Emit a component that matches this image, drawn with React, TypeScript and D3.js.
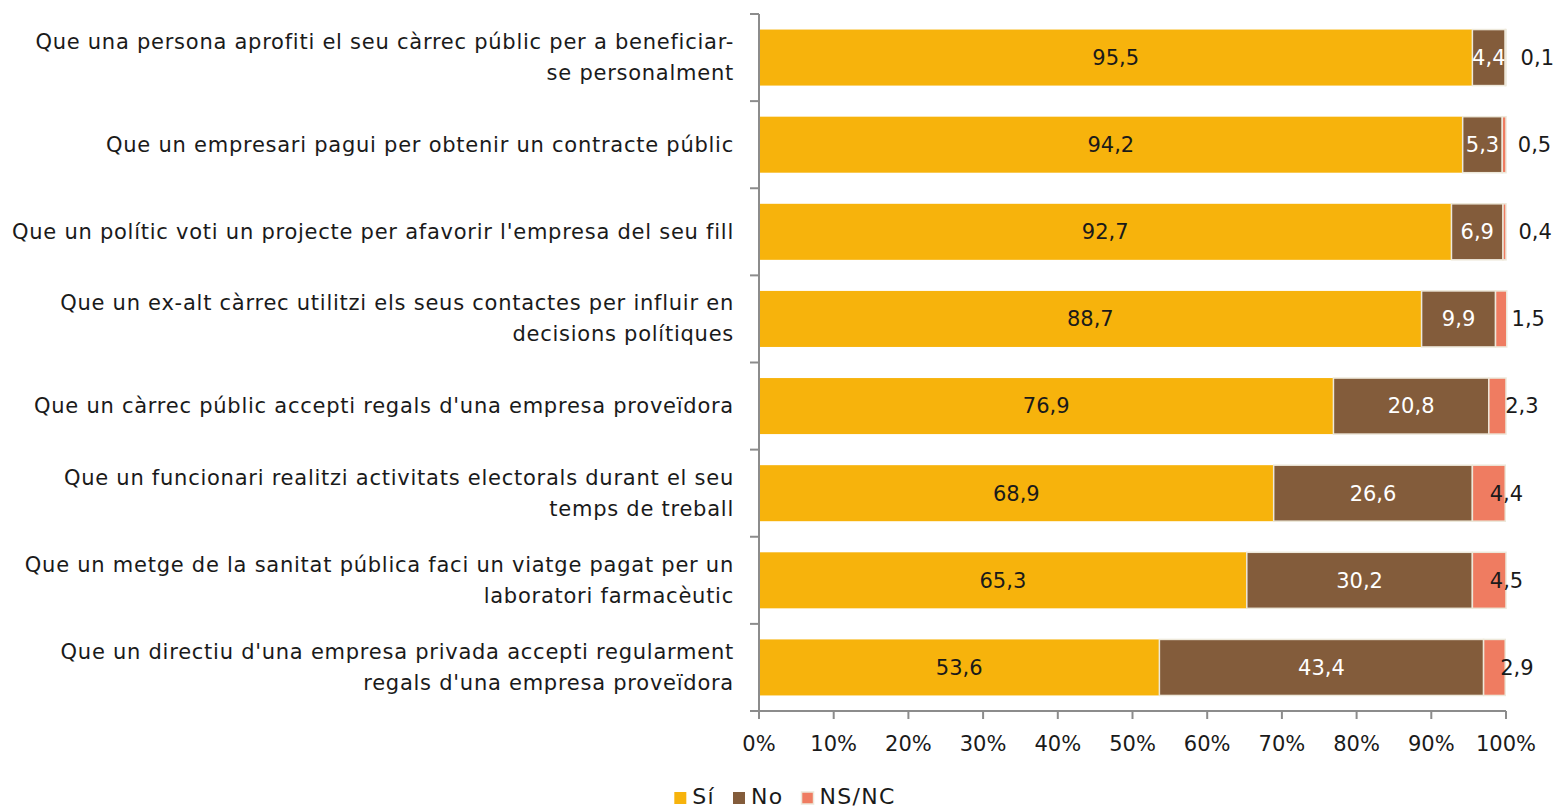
import React, { useEffect, useRef } from 'react';
import * as d3 from 'd3';

// questions (already split into the lines they show on)
const categories = [
  ['Que una persona aprofiti el seu càrrec públic per a beneficiar-', 'se personalment'],
  ['Que un empresari pagui per obtenir un contracte públic'],
  ["Que un polític voti un projecte per afavorir l'empresa del seu fill"],
  ['Que un ex-alt càrrec utilitzi els seus contactes per influir en', 'decisions polítiques'],
  ["Que un càrrec públic accepti regals d'una empresa proveïdora"],
  ['Que un funcionari realitzi activitats electorals durant el seu', 'temps de treball'],
  ['Que un metge de la sanitat pública faci un viatge pagat per un', 'laboratori farmacèutic'],
  ["Que un directiu d'una empresa privada accepti regularment", "regals d'una empresa proveïdora"],
];

const si = [95.5, 94.2, 92.7, 88.7, 76.9, 68.9, 65.3, 53.6];
const no = [4.4, 5.3, 6.9, 9.9, 20.8, 26.6, 30.2, 43.4];
const nsnc = [0.1, 0.5, 0.4, 1.5, 2.3, 4.4, 4.5, 2.9];

const seriesNames = ['Sí', 'No', 'NS/NC'];
const xTicks = [0, 10, 20, 30, 40, 50, 60, 70, 80, 90, 100];

const FONT = "'DejaVu Sans', sans-serif";
const FS = 21;
const colors = ['#F7B30C', '#835C3B', '#EF7C61'];
const labelColors = ['#1a1a1a', '#ffffff', '#1a1a1a'];

const ca = d3.formatLocale({ decimal: ',', thousands: '.', grouping: [3], currency: ['', '€'] });
const fmt = ca.format('.1f');

function Chart() {
  const ref = useRef<SVGSVGElement>(null);

  useEffect(() => {
    const svg = d3.select(ref.current);
    svg.selectAll('*').remove();

    const width = 1559, height = 808;
    const left = 759, right = 1506, top = 14, bottom = 711;

    const ids = categories.map((_, i) => i);
    const x = d3.scaleLinear().domain([0, 100]).range([left, right]);
    const ySlot = d3.scaleBand<number>().domain(ids).range([top, bottom]);
    const yBar = d3.scaleBand<number>().domain(ids).range([top, bottom])
      .paddingInner(0.357).paddingOuter(0.1785);

    const rows = ids.map(i => ({ i, vals: [si[i], no[i], nsnc[i]] }));
    const stack = d3.stack<any>().keys(['0', '1', '2']).value((d, k) => d.vals[+k]);
    const layers = stack(rows);

    const g = svg.append('g');

    layers.forEach((layer, s) => {
      g.append('g').selectAll('rect')
        .data(layer)
        .enter()
        .append('rect')
        .attr('x', d => x(d[0]))
        .attr('y', d => yBar(d.data.i)!)
        .attr('width', d => x(d[1]) - x(d[0]))
        .attr('height', yBar.bandwidth())
        .attr('fill', colors[s])
        .attr('stroke', s === 0 ? 'none' : '#EDE8DA')
        .attr('stroke-width', 1.5);
    });

    // data labels
    layers.forEach((layer, s) => {
      g.append('g').selectAll('text')
        .data(layer)
        .enter()
        .append('text')
        .attr('x', d => {
          const v = d.data.vals[s];
          if (s < 2) return (x(d[0]) + x(d[1])) / 2;
          // NS/NC labels sit past the bar end, less so for the wider pieces
          return x(d[1]) + Math.max(0, 32 - 7 * v);
        })
        .attr('y', d => yBar(d.data.i)! + yBar.bandwidth() / 2)
        .attr('dy', '0.35em')
        .attr('text-anchor', 'middle')
        .attr('font-family', FONT)
        .attr('font-size', FS)
        .attr('fill', labelColors[s])
        .text(d => fmt(d.data.vals[s]));
    });

    const axisColor = '#8C8C8C';

    // y axis
    g.append('line')
      .attr('x1', left).attr('x2', left)
      .attr('y1', top).attr('y2', bottom)
      .attr('stroke', axisColor).attr('stroke-width', 2);
    const yEdges = [...ids.map(i => ySlot(i)!), bottom];
    g.append('g').selectAll('line')
      .data(yEdges)
      .enter()
      .append('line')
      .attr('x1', left - 9).attr('x2', left)
      .attr('y1', d => d).attr('y2', d => d)
      .attr('stroke', axisColor).attr('stroke-width', 2);

    // category labels
    const catG = g.append('g');
    categories.forEach((lines, i) => {
      const cy = ySlot(i)! + ySlot.bandwidth() / 2;
      const lh = 31;
      const t = catG.append('text')
        .attr('text-anchor', 'end')
        .attr('font-family', FONT)
        .attr('font-size', FS)
        .attr('letter-spacing', 0.75)
        .attr('fill', '#1a1a1a');
      lines.forEach((line, j) => {
        t.append('tspan')
          .attr('x', left - 25)
          .attr('y', cy + (j - (lines.length - 1) / 2) * lh)
          .attr('dy', '0.33em')
          .text(line);
      });
    });

    // x axis
    g.append('line')
      .attr('x1', left).attr('x2', right)
      .attr('y1', bottom).attr('y2', bottom)
      .attr('stroke', axisColor).attr('stroke-width', 2);
    g.append('g').selectAll('line')
      .data(xTicks)
      .enter()
      .append('line')
      .attr('x1', d => x(d)).attr('x2', d => x(d))
      .attr('y1', bottom).attr('y2', bottom + 8)
      .attr('stroke', axisColor).attr('stroke-width', 2);
    g.append('g').selectAll('text')
      .data(xTicks)
      .enter()
      .append('text')
      .attr('x', d => x(d))
      .attr('y', 751)
      .attr('text-anchor', 'middle')
      .attr('font-family', FONT)
      .attr('font-size', FS)
      .attr('fill', '#1a1a1a')
      .text(d => `${d}%`);

    // legend
    const leg = svg.append('g');
    let cx = 0;
    seriesNames.forEach((name, s) => {
      const item = leg.append('g').attr('transform', `translate(${cx},0)`);
      item.append('rect')
        .attr('x', 0).attr('y', 792)
        .attr('width', 12).attr('height', 12)
        .attr('fill', colors[s])
        .attr('stroke', s === 2 ? '#EDE8DA' : 'none')
        .attr('stroke-width', 1.5);
      const t = item.append('text')
        .attr('x', 18).attr('y', 804)
        .attr('font-family', FONT)
        .attr('font-size', 22)
        .attr('letter-spacing', 1.3)
        .attr('fill', '#1a1a1a')
        .text(name);
      const w = (t.node() as SVGTextElement).getComputedTextLength();
      cx += 18 + w + 18;
    });
    const legW = cx - 18;
    leg.attr('transform', `translate(${785 - legW / 2},0)`);

    svg.attr('width', width).attr('height', height);
  }, []);

  return <svg ref={ref} style={{ position: 'absolute', left: 0, top: 0, display: 'block' }}></svg>;
}

export default function App() {
  return <Chart />;
}
